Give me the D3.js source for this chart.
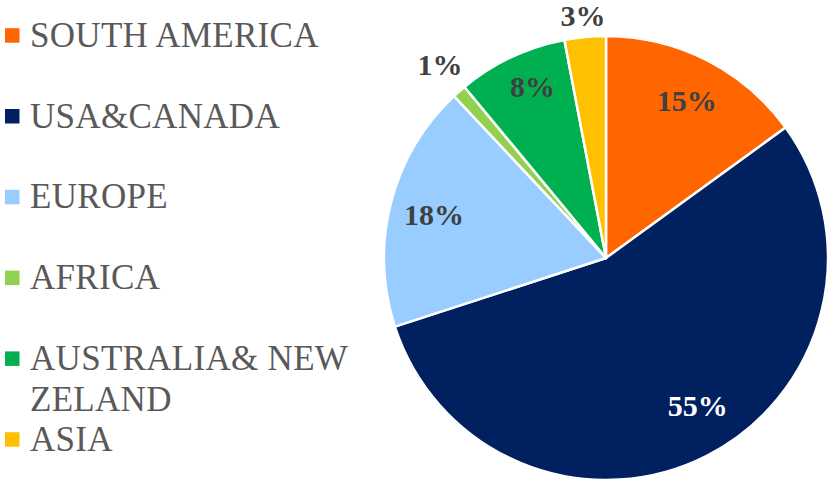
<!DOCTYPE html>
<html>
<head>
<meta charset="utf-8">
<script src="https://cdn.jsdelivr.net/npm/d3@7"></script>
<style>
  html, body { margin: 0; padding: 0; background: #ffffff; }
  svg { display: block; }
</style>
</head>
<body>
<svg id="chart" width="828" height="479"></svg>
<script>
// Regional share, drawn clockwise from 12 o'clock
const regions = ["SOUTH AMERICA", "USA&CANADA", "EUROPE", "AFRICA", "AUSTRALIA& NEW ZELAND", "ASIA"];
const shares = [15, 55, 18, 1, 8, 3];
const legendLines = [["SOUTH AMERICA"], ["USA&CANADA"], ["EUROPE"], ["AFRICA"], ["AUSTRALIA& NEW", "ZELAND"], ["ASIA"]];
const sliceColors = ["#FF6600", "#002060", "#99CCFF", "#92D050", "#00B050", "#FFC000"];
const labelColors = ["#404040", "#ffffff", "#404040", "#404040", "#404040", "#404040"];
const outsideLabel = [false, false, false, true, false, true];

const svg = d3.select("#chart");
const cx = 606, cy = 258, R = 222;

const data = regions.map((name, i) => ({ name, value: shares[i], color: sliceColors[i], labelColor: labelColors[i], outside: outsideLabel[i], lines: legendLines[i] }));

const pie = d3.pie().value(d => d.value).sort(null).startAngle(0).endAngle(2 * Math.PI);
const arcs = pie(data);
const arc = d3.arc().innerRadius(0).outerRadius(R);

const g = svg.append("g").attr("transform", `translate(${cx},${cy})`);

g.selectAll("path.slice")
  .data(arcs)
  .join("path")
  .attr("class", "slice")
  .attr("d", arc)
  .attr("fill", d => d.data.color)
  .attr("stroke", "#ffffff")
  .attr("stroke-width", 2.5)
  .attr("stroke-linejoin", "round");

// Percentage labels: inside ones on a ring, small slices just outside the rim
const fontSize = 30;
const labelFont = "'Liberation Serif', 'Times New Roman', serif";
const insideR = R * 0.8;
const gap = 6;
// fine placement tweaks for the labels that sit off the ring
const labelNudge = { "USA&CANADA": [11, -12], "AUSTRALIA& NEW ZELAND": [2, -12], "AFRICA": [2, -4] };

g.selectAll("text.pct")
  .data(arcs)
  .join("text")
  .attr("class", "pct")
  .text(d => d.data.value + "%")
  .attr("font-family", labelFont)
  .attr("font-weight", "bold")
  .attr("font-size", fontSize)
  .attr("fill", d => d.data.labelColor)
  .attr("text-anchor", "middle")
  .attr("dominant-baseline", "central")
  .each(function(d) {
    const a = (d.startAngle + d.endAngle) / 2;
    const s = Math.sin(a), c = Math.cos(a);
    let r;
    if (d.data.outside) {
      const bb = this.getBBox();
      const ext = Math.abs(s) * bb.width / 2 + Math.abs(c) * fontSize * 0.5;
      r = R + gap + ext;
    } else {
      r = insideR;
    }
    const n = labelNudge[d.data.name] || [0, 0];
    d3.select(this).attr("x", s * r + n[0]).attr("y", -c * r + 1 + n[1]);
  });

// Legend
const legend = svg.append("g").attr("class", "legend");
const legendTop = 46.7, legendStep = 80.8, lineStep = 41.5;
const legendFontSize = 35;

const items = legend.selectAll("g.item")
  .data(data)
  .join("g")
  .attr("class", "item")
  .attr("transform", (d, i) => `translate(0,${legendTop + i * legendStep})`);

items.append("rect")
  .attr("x", 5)
  .attr("y", -18.5)
  .attr("width", 14.5)
  .attr("height", 14.5)
  .attr("fill", d => d.color);

items.append("text")
  .attr("x", 30)
  .attr("y", 0)
  .attr("font-family", labelFont)
  .attr("font-size", legendFontSize)
  .attr("letter-spacing", 0.3)
  .attr("fill", "#595959")
  .selectAll("tspan")
  .data(d => d.lines)
  .join("tspan")
  .attr("x", 30)
  .attr("dy", (d, i) => i === 0 ? 0 : lineStep)
  .text(d => d);
</script>
</body>
</html>
